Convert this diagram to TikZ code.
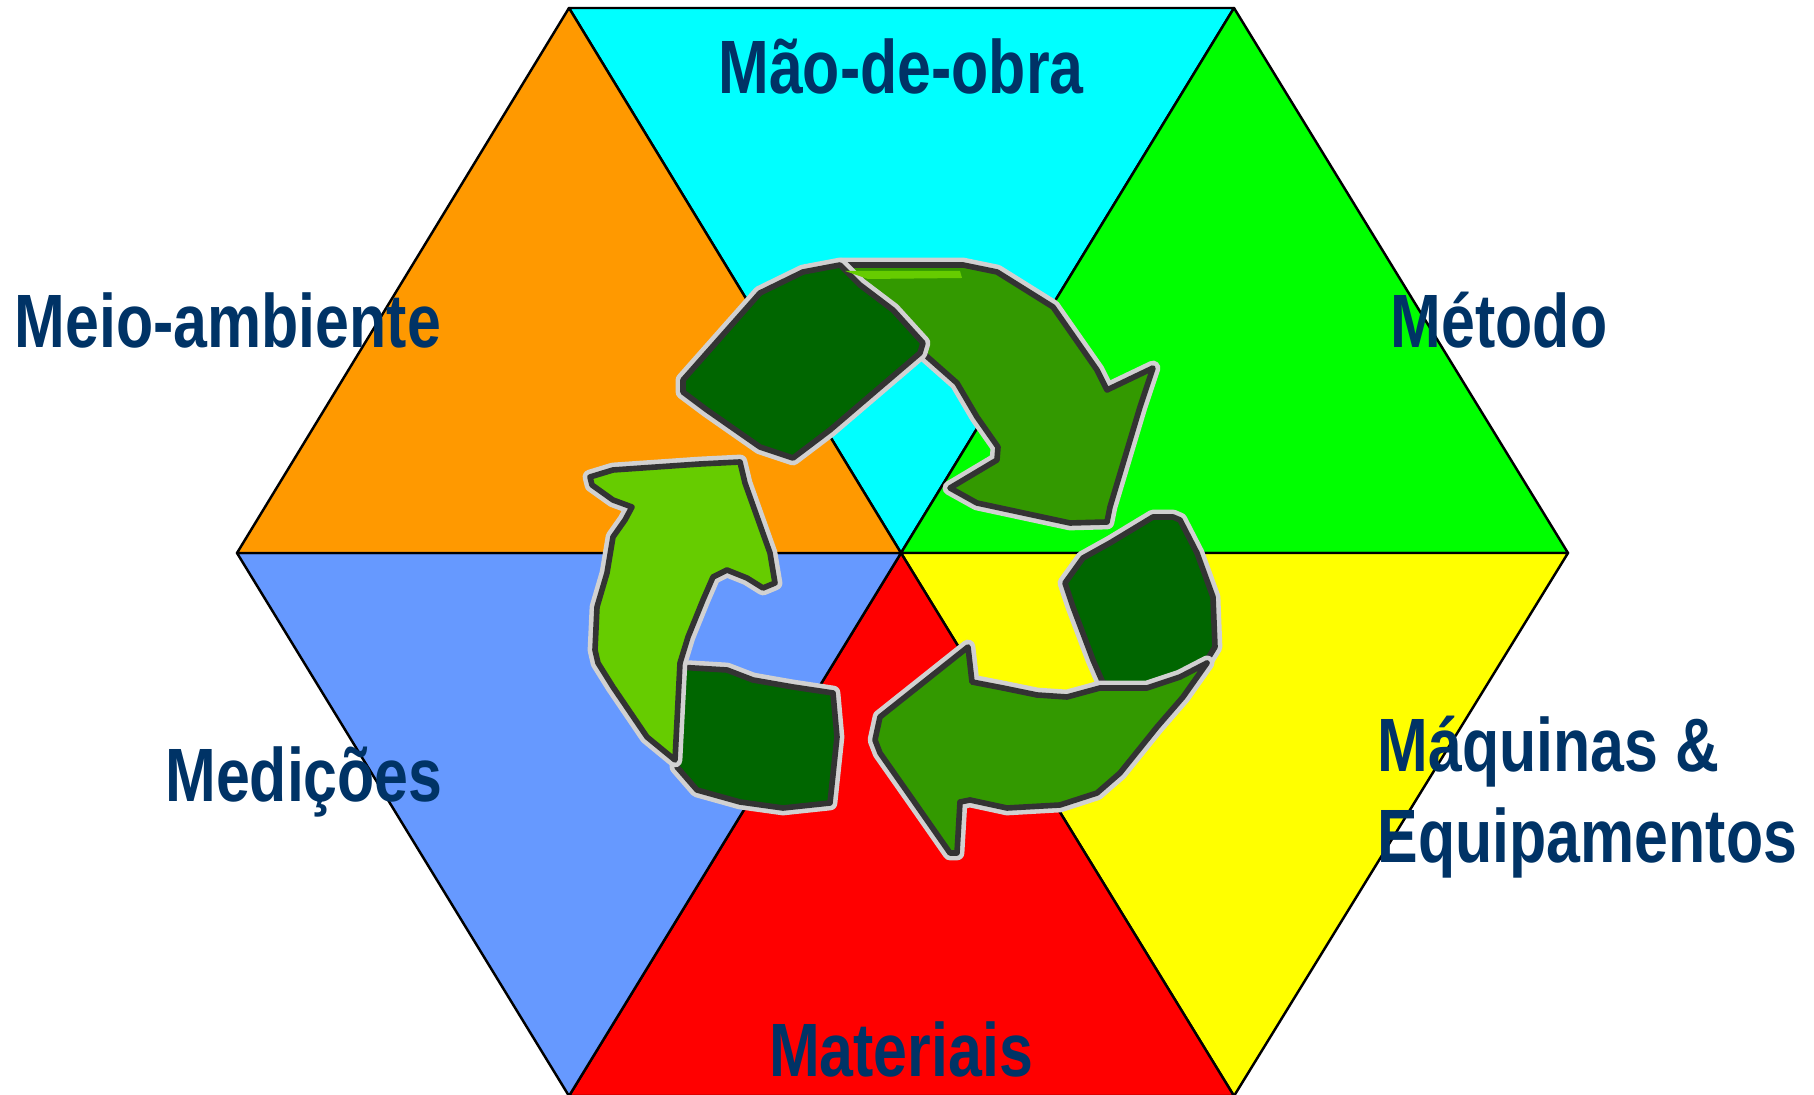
\documentclass[tikz,border=0pt]{standalone}
\usepackage{fontspec}
\newfontfamily\labelfont[FakeStretch=0.805]{Liberation Sans}
\usepackage{tikz}
\definecolor{navy}{HTML}{003366}
\definecolor{darkleaf}{HTML}{006600}
\definecolor{midleaf}{HTML}{339900}
\definecolor{lightleaf}{HTML}{66CC00}
\definecolor{medblue}{HTML}{6699FF}
\definecolor{amber}{HTML}{FF9900}
\definecolor{aqua}{HTML}{00FFFF}
\definecolor{lime}{HTML}{00FF00}
\definecolor{lemon}{HTML}{FFFF00}
\definecolor{scarlet}{HTML}{FF0000}
\newcommand\hexwedge[4]{
        \fill[#4] (#1) -- (#2) -- (#3) -- cycle;
        \draw[line width=0.7pt,line join=round] (#1) -- (#2) -- (#3) -- cycle;
}
\newcommand\leafshape[2]{
        \draw[line width=4.2pt,draw=black!18,line join=round] #2 -- cycle;
        \draw[line width=1.6pt,draw=black!80,fill=#1,line join=round] #2 -- cycle;
}
\tikzset{areaname/.style={text=navy,font=\labelfont\bfseries\fontsize{21.5}{26}\selectfont,inner sep=0pt}}

\begin{document}
\begin{tikzpicture}[x=0.01cm,y=-0.01cm]

    \useasboundingbox (0,0) rectangle (1814,1095);

    %draws the hexagon:
    \begin{scope}
        \coordinate (mid) at (901,553);
        \coordinate (topl) at (569,8);
        \coordinate (topr) at (1234,8);
        \coordinate (rgt) at (1568,553);
        \coordinate (botr) at (1234,1096);
        \coordinate (botl) at (569,1096);
        \coordinate (lft) at (237,553);

        \hexwedge{mid}{topl}{topr}{aqua};
        \hexwedge{mid}{topr}{rgt}{lime};
        \hexwedge{mid}{rgt}{botr}{lemon};
        \hexwedge{mid}{botr}{botl}{scarlet};
        \hexwedge{mid}{botl}{lft}{medblue};
        \hexwedge{mid}{lft}{topl}{amber};
    \end{scope}

    %draws the three arrows:
    \begin{scope}
        \leafshape{midleaf}{(840,265) -- (963,265) -- (997,272) -- (1053,307) -- (1097,370) -- (1107,390) -- (1153,368) -- (1140,407) -- (1110,507) -- (1107,522) -- (1070,523) -- (977,503) -- (950,488) -- (997,460) -- (998,447) -- (977,417) -- (957,383) -- (923,353)}
        \leafshape{darkleaf}{(683,380) -- (760,293) -- (803,272) -- (840,265) -- (860,285) -- (893,310) -- (923,343) -- (920,353) -- (830,430) -- (793,458) -- (760,447) -- (707,410) -- (683,392)}
        \fill[lightleaf] (845,271) -- (960,271) -- (962,278) -- (868,279) -- cycle;

        \leafshape{darkleaf}{(677,667) -- (727,670) -- (753,680) -- (793,687) -- (833,693) -- (837,737) -- (830,803) -- (783,808) -- (740,802) -- (697,790) -- (677,767)}
        \leafshape{lightleaf}{(590,477) -- (613,470) -- (700,464) -- (740,462) -- (745,483) -- (770,553) -- (775,583) -- (763,588) -- (747,578) -- (727,570) -- (713,577) -- (703,600) -- (688,637) -- (680,663) -- (675,760) -- (647,737) -- (613,687) -- (598,663) -- (595,650) -- (597,607) -- (607,573) -- (613,537) -- (625,520) -- (632,507) -- (613,500) -- (592,485)}

        \leafshape{darkleaf}{(1173,517) -- (1153,517) -- (1110,543) -- (1083,558) -- (1065,583) -- (1073,607) -- (1093,660) -- (1103,683) -- (1150,687) -- (1180,677) -- (1207,660) -- (1215,647) -- (1213,597) -- (1197,553) -- (1180,520)}
        \leafshape{midleaf}{(968,647) -- (972,682) -- (1003,688) -- (1037,695) -- (1067,697) -- (1100,688) -- (1147,688) -- (1180,677) -- (1207,663) -- (1183,697) -- (1157,727) -- (1120,773) -- (1097,793) -- (1060,805) -- (1007,808) -- (970,800) -- (960,802) -- (957,853) -- (950,853) -- (913,800) -- (880,753) -- (875,740) -- (880,717)}
    \end{scope}

    %draws the labels:
    \node[areaname] (maoobra) at (901,66) {Mão-de-obra};
    \node[areaname] (meio) at (228,320) {Meio-ambiente};
    \node[areaname] (metodo) at (1499,320) {Método};
    \node[areaname,align=left,anchor=west] (maquinas) at (1377,797) {Máquinas \&\\Equipamentos};
    \node[areaname] (medicoes) at (304,782) {Medições};
    \node[areaname] (materiais) at (901,1049) {Materiais};

\end{tikzpicture}
\end{document}
